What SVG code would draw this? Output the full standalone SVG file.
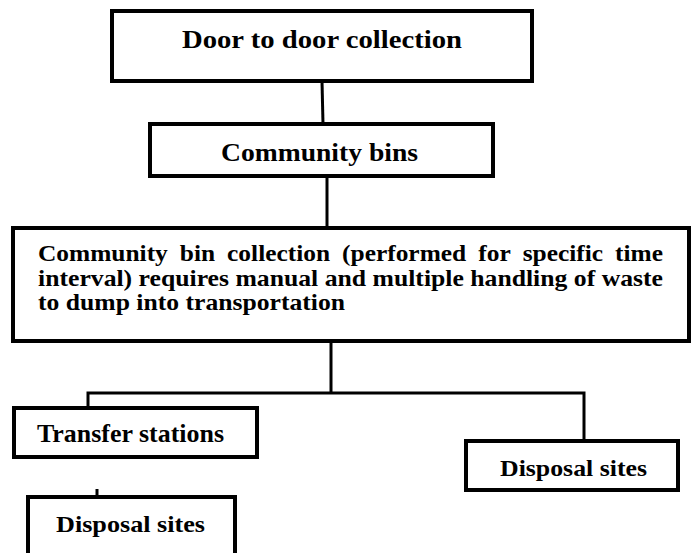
<svg xmlns="http://www.w3.org/2000/svg" width="694" height="553" viewBox="0 0 694 553">
<style>
.box{fill:#fff;stroke:#000;stroke-width:4}
.t{font-family:"Liberation Serif","DejaVu Serif",serif;font-weight:bold;fill:#000}
.b{font-size:23px}
.c{stroke:#000;stroke-width:3;fill:none}
</style>
<rect width="694" height="553" fill="#fff"/>
<g id="connectors">
<line class="c" x1="322" y1="81" x2="323" y2="124"/>
<line class="c" x1="327" y1="176" x2="327" y2="228"/>
<line class="c" x1="331" y1="341" x2="331" y2="393"/>
<polyline class="c" points="88,408 88,393 584,393 584,441"/>
<line class="c" x1="97" y1="489" x2="97" y2="497"/>
</g>
<g id="door">
<rect class="box" x="112" y="11" width="420" height="70"/>
<text class="t" x="182" y="48" font-size="26" textLength="280" lengthAdjust="spacingAndGlyphs">Door to door collection</text>
</g>
<g id="bins">
<rect class="box" x="150" y="124" width="343" height="52"/>
<text class="t" x="221" y="161" font-size="26" textLength="197" lengthAdjust="spacingAndGlyphs">Community bins</text>
</g>
<g id="collection">
<rect class="box" x="13" y="228" width="676" height="113"/>
<text class="t b" x="38" y="261" textLength="129.8" lengthAdjust="spacingAndGlyphs">Community</text>
<text class="t b" x="179.8" y="261" textLength="35.3" lengthAdjust="spacingAndGlyphs">bin</text>
<text class="t b" x="227.1" y="261" textLength="103" lengthAdjust="spacingAndGlyphs">collection</text>
<text class="t b" x="342.1" y="261" textLength="124.1" lengthAdjust="spacingAndGlyphs">(performed</text>
<text class="t b" x="478.2" y="261" textLength="32.5" lengthAdjust="spacingAndGlyphs">for</text>
<text class="t b" x="522.7" y="261" textLength="80.4" lengthAdjust="spacingAndGlyphs">specific</text>
<text class="t b" x="615.1" y="261" textLength="47.9" lengthAdjust="spacingAndGlyphs">time</text>
<text class="t b" x="38" y="286" textLength="625" lengthAdjust="spacingAndGlyphs">interval) requires manual and multiple handling of waste</text>
<text class="t b" x="38" y="310" textLength="307" lengthAdjust="spacingAndGlyphs">to dump into transportation</text>
</g>
<g id="transfer">
<rect class="box" x="14" y="408" width="243" height="49"/>
<text class="t" x="37" y="442" font-size="25" textLength="187" lengthAdjust="spacingAndGlyphs">Transfer stations</text>
</g>
<g id="disposal-right">
<rect class="box" x="466" y="441" width="212" height="49"/>
<text class="t" x="500" y="476" font-size="24" textLength="147" lengthAdjust="spacingAndGlyphs">Disposal sites</text>
</g>
<g id="disposal-left">
<rect class="box" x="28" y="497" width="207" height="70"/>
<text class="t" x="56" y="532" font-size="24" textLength="149" lengthAdjust="spacingAndGlyphs">Disposal sites</text>
</g>
</svg>
